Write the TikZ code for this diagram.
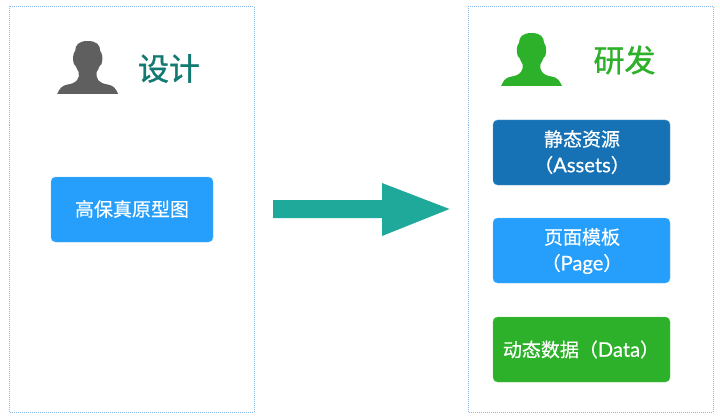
\documentclass[tikz,border=0pt]{standalone}
\usepackage{fontspec}
\setmainfont[FakeBold=0.5]{Noto Sans CJK SC}
\newfontfamily\headfont[FakeBold=1.1]{Noto Sans CJK SC}
\newfontfamily\latn[FakeBold=0.5,Scale=1.06]{Lato}
\definecolor{panelline}{HTML}{86B8E8}
\definecolor{darkblue}{HTML}{1672B5}
\definecolor{skyblue}{HTML}{259FFB}
\definecolor{grass}{HTML}{2DB02A}
\definecolor{tealtxt}{HTML}{127A70}
\definecolor{arrowteal}{HTML}{1FA99B}
\definecolor{persongray}{HTML}{5F5F5F}
\tikzset{
  x=1pt,y=-1pt,
  panel/.style={draw=panelline,line width=0.8pt,dash pattern=on 1pt off 1pt},
  tilebox/.style={rounded corners=4.5pt,draw=#1!70!white,line width=0.4pt,fill=#1},
  tiletext/.style={text=white,font=\fontsize{19}{26}\selectfont,align=center,inner sep=0pt},
  heading/.style={font=\headfont\fontsize{31}{33}\selectfont,inner sep=0pt},
  person/.pic={
    \fill[pic actions] (0,0)
      .. controls (9,0) and (12.5,4) .. (12.5,10)
      .. controls (14,11) and (15,16) .. (14.6,19)
      .. controls (14.4,22) and (13.5,25) .. (12,25)
      .. controls (11.5,28) and (9.5,29) .. (9,31)
      .. controls (8.5,34) and (8.8,37) .. (10.5,39)
      .. controls (12.5,41.5) and (16,43) .. (20,43.5)
      .. controls (26,44.5) and (28,47.5) .. (30.5,53)
      -- (-30.5,53)
      .. controls (-28,47.5) and (-26,44.5) .. (-20,43.5)
      .. controls (-16,43) and (-12.5,41.5) .. (-10.5,39)
      .. controls (-8.8,37) and (-8.5,34) .. (-9,31)
      .. controls (-9.5,29) and (-11.5,28) .. (-12,25)
      .. controls (-13.5,25) and (-14.4,22) .. (-14.6,19)
      .. controls (-15,16) and (-14,11) .. (-12.5,10)
      .. controls (-12.5,4) and (-9,0) .. (0,0) -- cycle;
  }
}
\begin{document}
\begin{tikzpicture}
\useasboundingbox (0,0) rectangle (720,417);
\draw[panel] (9.5,6.5) rectangle (254,412);
\draw[panel] (468.5,6.5) rectangle (713,412);
\pic[fill=persongray] at (87.7,41) {person};
\pic[fill=grass] at (531.5,33) {person};
\node[heading,text=tealtxt] (design) at (169,68.5) {设计};
\node[heading,text=grass] (dev) at (624.5,60) {研发};
\draw[tilebox=skyblue] (51,177) rectangle (213,242);
\node[tiletext] (proto) at (132,209) {高保真原型图};
\draw[tilebox=darkblue] (493,120) rectangle (670,185);
\node[tiletext] (assets1) at (582,139) {静态资源};
\node[tiletext] (assets2) at (582,165) {（{\latn Assets}）};
\draw[tilebox=skyblue] (493,218) rectangle (670,283);
\node[tiletext] (page1) at (582,237) {页面模板};
\node[tiletext] (page2) at (582,264) {（{\latn Page}）};
\draw[tilebox=grass] (493,317) rectangle (670,382);
\node[tiletext] (data) at (581,349.5) {动态数据（{\latn Data}）};
\fill[arrowteal] (273,200) -- (382,200) -- (382,183) -- (449.5,209) -- (382,236) -- (382,218) -- (273,218) -- cycle;
\end{tikzpicture}
\end{document}
